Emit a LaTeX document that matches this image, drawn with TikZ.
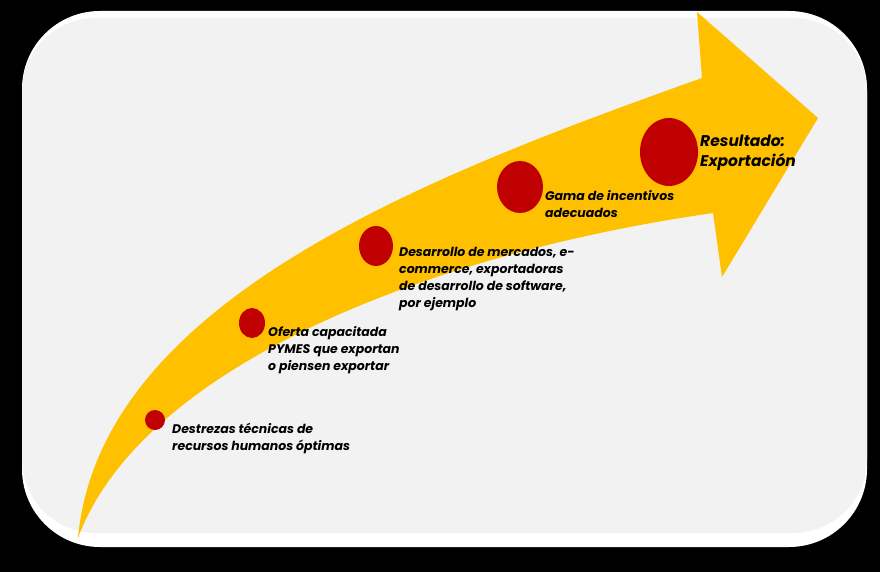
\documentclass[tikz,border=0pt]{standalone}
\usepackage{fontspec}
\setmainfont{Poppins}
\usepackage{tikz}
\definecolor{gelb}{HTML}{FFC000}
\definecolor{rot}{HTML}{C00000}
\definecolor{hell}{HTML}{F2F2F2}

\tikzset{
	etikett/.style={anchor=base west, inner sep=0pt, align=left,
		font=\fontsize{12.5}{17}\selectfont\bfseries\itshape},
	gross/.style={font=\fontsize{15.5}{20}\selectfont\bfseries\itshape}
}

\begin{document}
\begin{tikzpicture}[x=1pt,y=-1pt]
		% Hintergrund
		\fill[black] (0,0) rectangle (880,572);
		\useasboundingbox (0,0) rectangle (880,572);
		\fill[white, rounded corners=78pt] (22,11) rectangle (867,547);
		\fill[hell, rounded corners=74pt] (22,18) rectangle (867,533);

		% Pfeil
		\coordinate (spitze) at (78,538);
		\coordinate (oben) at (702,78);
		\coordinate (unten) at (713,213);
		\begin{scope}
			\clip[rounded corners=78pt] (22,11) rectangle (867,547);
			\fill[gelb] (spitze) .. controls (100,300) and (430,175) .. (oben)
				-- (697,12) -- (818,118) -- (722,277) -- (unten)
				.. controls (420,255) and (140,370) .. (spitze) -- cycle;
		\end{scope}

		% Punkte
		\coordinate (p1) at (155,420);
		\coordinate (p2) at (252,323);
		\coordinate (p3) at (376,246);
		\coordinate (p4) at (520,187);
		\coordinate (p5) at (669,152);
		\fill[rot] (p1) ellipse (10pt and 10pt);
		\fill[rot] (p2) ellipse (13pt and 15pt);
		\fill[rot] (p3) ellipse (17pt and 20pt);
		\fill[rot] (p4) ellipse (23pt and 26pt);
		\fill[rot] (p5) ellipse (29pt and 34pt);

		% Texte (Grundlinie der letzten Zeile)
		\node[etikett] (t1) at (172,450) {Destrezas técnicas de\\recursos humanos óptimas};
		\node[etikett] (t2) at (268,370) {Oferta capacitada\\PYMES que exportan\\o piensen exportar};
		\node[etikett] (t3) at (399,307) {Desarrollo de mercados, e-\\commerce, exportadoras\\de desarrollo de software,\\por ejemplo};
		\node[etikett] (t4) at (545,217) {Gama de incentivos\\adecuados};
		\node[etikett, gross] (t5) at (700,167) {Resultado:\\Exportación};
	\end{tikzpicture}
\end{document}
